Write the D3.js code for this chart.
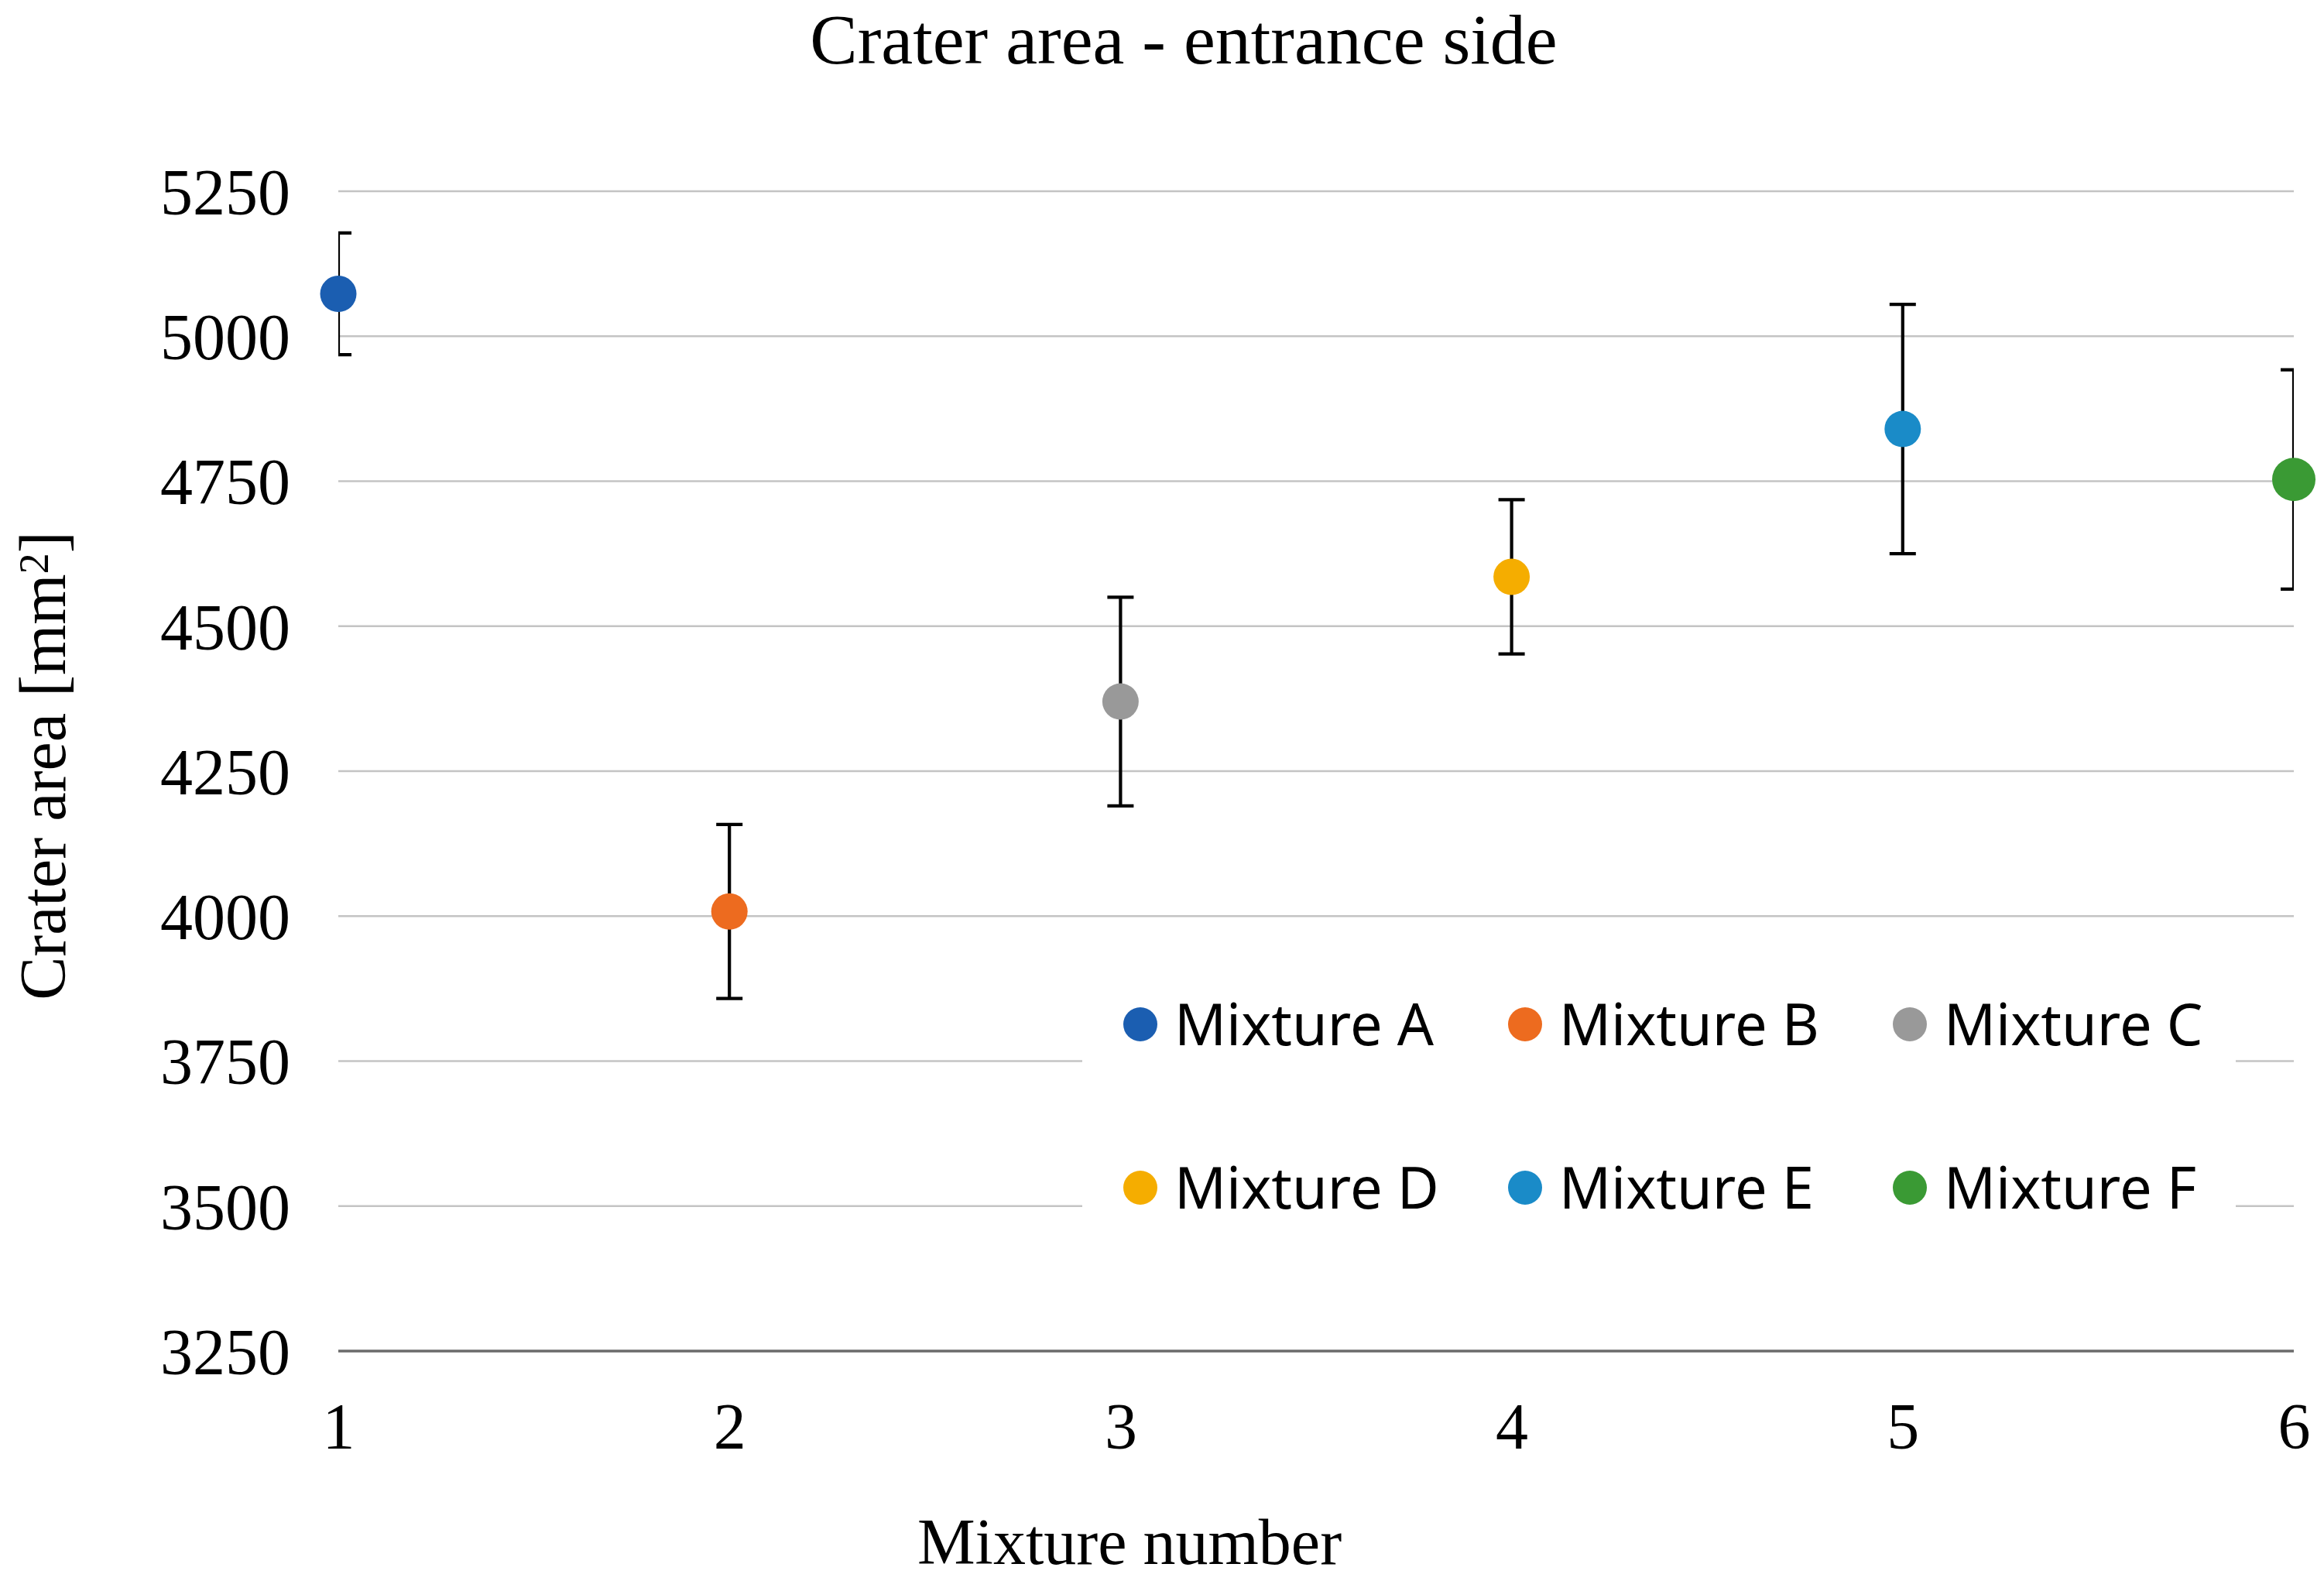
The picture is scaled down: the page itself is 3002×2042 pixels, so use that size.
<!DOCTYPE html>
<html>
<head>
    <title>Crater area - entrance side</title>
    <style>
        body { margin: 0; background: #ffffff; }
        .serif { font-family: "Liberation Serif", "Times New Roman", serif; fill: #000; }
        .legend-text { font-family: "Noto Sans", sans-serif; font-size: 74px; fill: #000; }
    </style>
    <script src="https://d3js.org/d3.v7.min.js"></script>
</head>
<body>
    <div id="chart"></div>
    <script>
        // data
        var mixtures = [1, 2, 3, 4, 5, 6];
        var names = ["Mixture A", "Mixture B", "Mixture C", "Mixture D", "Mixture E", "Mixture F"];
        var means = [5073, 4008, 4370, 4585, 4840, 4753];
        var errors = [105, 150, 180, 133, 215, 189];
        var yTicks = [3250, 3500, 3750, 4000, 4250, 4500, 4750, 5000, 5250];

        var colors = ["#1b5eb1", "#ed6b1f", "#999999", "#f5ad00", "#1a8bc8", "#3a9a34"];

        var width = 3002, height = 2042;
        var margin = { top: 247, right: 39, bottom: 297, left: 437 };
        var plotW = width - margin.left - margin.right;
        var plotH = height - margin.top - margin.bottom;

        var svg = d3.select("#chart")
            .append("svg")
            .attr("width", width)
            .attr("height", height);

        var x = d3.scaleLinear().domain([1, 6]).range([margin.left, margin.left + plotW]);
        var y = d3.scaleLinear().domain([3250, 5250]).range([margin.top + plotH, margin.top]);

        // gridlines
        svg.append("g")
            .selectAll("line")
            .data(yTicks)
            .enter()
            .append("line")
            .attr("x1", x(1))
            .attr("x2", x(6))
            .attr("y1", function(d) { return y(d); })
            .attr("y2", function(d) { return y(d); })
            .attr("stroke", function(d) { return d === 3250 ? "#6b6b6b" : "#c4c4c4"; })
            .attr("stroke-width", function(d) { return d === 3250 ? 3.5 : 2.6; });

        // y axis labels
        var yAxis = d3.axisLeft(y).tickValues(yTicks).tickSize(0).tickPadding(62).tickFormat(d3.format("d"));
        var gy = svg.append("g")
            .attr("transform", "translate(" + x(1) + ",0)")
            .call(yAxis);
        gy.select(".domain").remove();
        gy.selectAll("text")
            .attr("class", "serif")
            .style("font-size", "84px")
            .attr("dy", "0.35em");

        // x axis labels
        var xAxis = d3.axisBottom(x).tickValues(mixtures).tickSize(0).tickPadding(0).tickFormat(d3.format("d"));
        var gx = svg.append("g")
            .attr("transform", "translate(0," + (y(3250)) + ")")
            .call(xAxis);
        gx.select(".domain").remove();
        gx.selectAll("text")
            .attr("class", "serif")
            .style("font-size", "84px")
            .attr("y", 126)
            .attr("dy", 0);

        // clip error bars to plot area
        svg.append("clipPath")
            .attr("id", "plot-clip")
            .append("rect")
            .attr("x", x(1))
            .attr("y", 0)
            .attr("width", x(6) - x(1))
            .attr("height", height);

        var errG = svg.append("g").attr("clip-path", "url(#plot-clip)");
        var capHalf = 17;
        mixtures.forEach(function(m, i) {
            var cx = x(m);
            var top = y(means[i] + errors[i]);
            var bot = y(means[i] - errors[i]);
            errG.append("line")
                .attr("x1", cx).attr("x2", cx)
                .attr("y1", top).attr("y2", bot)
                .attr("stroke", "#000").attr("stroke-width", 4.2);
            [top, bot].forEach(function(yy) {
                errG.append("line")
                    .attr("x1", cx - capHalf).attr("x2", cx + capHalf)
                    .attr("y1", yy).attr("y2", yy)
                    .attr("stroke", "#000").attr("stroke-width", 4.2);
            });
        });

        // points
        svg.append("g")
            .selectAll("circle")
            .data(mixtures)
            .enter()
            .append("circle")
            .attr("cx", function(d) { return x(d); })
            .attr("cy", function(d, i) { return y(means[i]); })
            .attr("r", function(d, i) { return i === 5 ? 28 : 23.5; })
            .attr("fill", function(d, i) { return colors[i]; });

        // legend
        var legend = svg.append("g");
        legend.append("rect")
            .attr("x", 1398).attr("y", 1245)
            .attr("width", 1490).attr("height", 370)
            .attr("fill", "#ffffff");

        var legX = d3.scalePoint().domain([0, 1, 2]).range([1473, 2467]);
        var legY = d3.scalePoint().domain([0, 1]).range([1323, 1534]);

        var items = legend.selectAll(".item")
            .data(names)
            .enter()
            .append("g")
            .attr("transform", function(d, i) {
                return "translate(" + legX(i % 3) + "," + legY(Math.floor(i / 3)) + ")";
            });
        items.append("circle")
            .attr("r", 22)
            .attr("fill", function(d, i) { return colors[i]; });
        items.append("text")
            .attr("class", "legend-text")
            .attr("x", 44)
            .attr("dy", "0.36em")
            .text(function(d) { return d; });

        // titles
        svg.append("text")
            .attr("class", "serif")
            .attr("x", 1529)
            .attr("y", 82)
            .attr("text-anchor", "middle")
            .style("font-size", "92px")
            .text("Crater area - entrance side");

        svg.append("text")
            .attr("class", "serif")
            .attr("x", 1459)
            .attr("y", 2020)
            .attr("text-anchor", "middle")
            .style("font-size", "84px")
            .text("Mixture number");

        var yt = svg.append("text")
            .attr("class", "serif")
            .attr("transform", "translate(84,989) rotate(-90)")
            .attr("text-anchor", "middle")
            .style("font-size", "84px");
        yt.append("tspan").text("Crater area [mm");
        yt.append("tspan").attr("dy", "-0.4em").style("font-size", "54px").text("2");
        yt.append("tspan").attr("dy", "0.26em").text("]");
    </script>
</body>
</html>
